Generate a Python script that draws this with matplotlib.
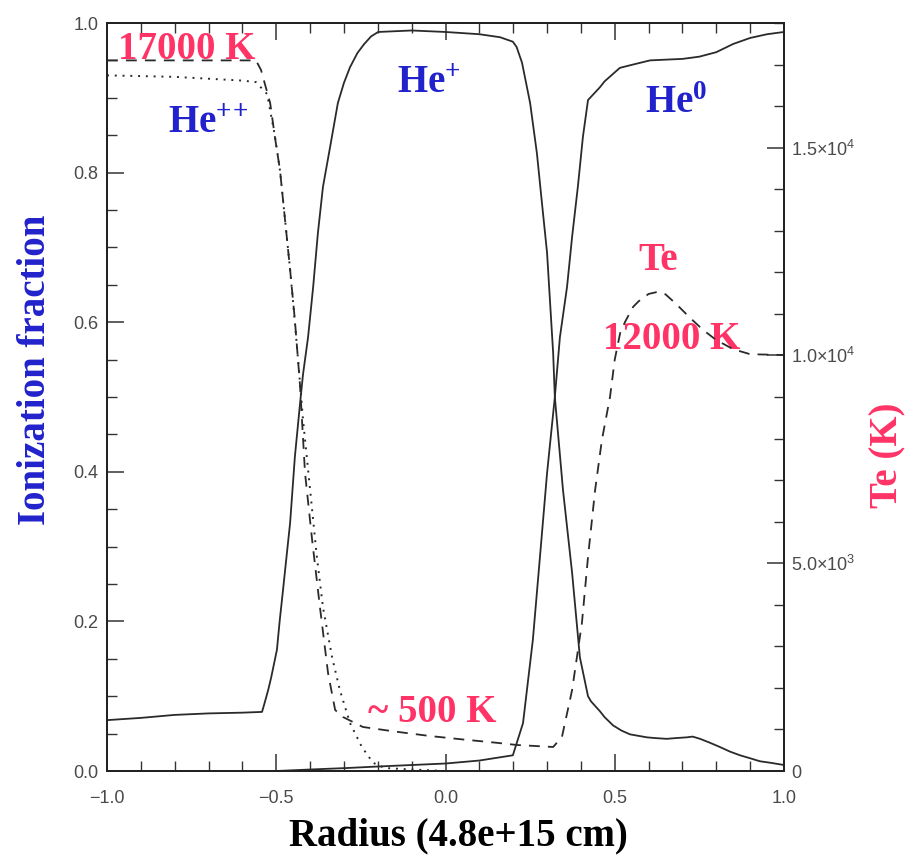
import matplotlib
matplotlib.use("Agg")
import matplotlib.pyplot as plt
from matplotlib.ticker import MultipleLocator, FixedLocator, FixedFormatter

plt.rcParams['mathtext.fontset'] = 'custom'
plt.rcParams['mathtext.rm'] = 'Liberation Serif:bold'
plt.rcParams['mathtext.bf'] = 'Liberation Serif:bold'
plt.rcParams['mathtext.sf'] = 'Liberation Sans'
plt.rcParams['mathtext.default'] = 'rm'

# ---------------- data ----------------
he_plus_r = [-1.0, -0.9, -0.8, -0.7, -0.6, -0.542, -0.535, -0.524, -0.515, -0.498,
             -0.490, -0.480, -0.470, -0.459, -0.445, -0.430, -0.421, -0.406, -0.391,
             -0.377, -0.362, -0.341, -0.318, -0.300, -0.282, -0.260, -0.240, -0.220,
             -0.199, -0.1, 0.0, 0.1, 0.161, 0.199, 0.210, 0.226, 0.250, 0.270,
             0.285, 0.300, 0.309, 0.318, 0.323, 0.347, 0.374, 0.397, 0.421, 0.430,
             0.456, 0.470, 0.495, 0.520, 0.545, 0.570, 0.595, 0.620, 0.654, 0.680,
             0.713, 0.730, 0.752, 0.780, 0.811, 0.840, 0.870, 0.900, 0.929, 0.960, 1.0]
he_plus = [0.068, 0.071, 0.075, 0.077, 0.078, 0.079, 0.090, 0.108, 0.125, 0.162,
           0.200, 0.242, 0.285, 0.332, 0.420, 0.490, 0.530, 0.580, 0.647,
           0.719, 0.781, 0.834, 0.893, 0.920, 0.941, 0.960, 0.972, 0.982,
           0.988, 0.990, 0.988, 0.985, 0.981, 0.975, 0.968, 0.947, 0.893, 0.826,
           0.759, 0.693, 0.626, 0.559, 0.500, 0.376, 0.265, 0.152, 0.100, 0.093,
           0.080, 0.072, 0.061, 0.054, 0.049, 0.047, 0.045, 0.044, 0.043, 0.044,
           0.045, 0.046, 0.043, 0.038, 0.032, 0.026, 0.021, 0.017, 0.013, 0.011, 0.008]

he0_r = [-1.0, -0.5, -0.4, -0.29, -0.2, -0.1, 0.0, 0.1, 0.199, 0.229, 0.258, 0.279,
         0.300, 0.323, 0.338, 0.359, 0.374, 0.391, 0.406, 0.421, 0.456, 0.470, 0.515,
         0.550, 0.604, 0.650, 0.70, 0.75, 0.80, 0.85, 0.90, 0.95, 1.0]
he0 = [0.0, 0.0, 0.002, 0.004, 0.006, 0.008, 0.010, 0.014, 0.021, 0.064, 0.175, 0.286,
       0.398, 0.500, 0.580, 0.647, 0.714, 0.781, 0.848, 0.897, 0.914, 0.922, 0.940,
       0.944, 0.950, 0.951, 0.952, 0.955, 0.961, 0.972, 0.980, 0.985, 0.988]

he2_r = [-1.0, -0.8, -0.6, -0.56, -0.527, -0.504, -0.489, -0.474, -0.459, -0.445,
         -0.430, -0.421, -0.400, -0.380, -0.362, -0.335, -0.312, -0.282, -0.247,
         -0.214, -0.18, -0.1, 0.0, 0.5, 1.0]
he2 = [0.930, 0.928, 0.923, 0.921, 0.905, 0.849, 0.803, 0.737, 0.670, 0.600,
       0.520, 0.470, 0.376, 0.286, 0.219, 0.152, 0.108, 0.064, 0.032,
       0.011, 0.004, 0.002, 0.0, 0.0, 0.0]

te_r = [-1.0, -0.8, -0.6, -0.56, -0.545, -0.518, -0.504, -0.489, -0.474, -0.459,
        -0.445, -0.430, -0.415, -0.394, -0.371, -0.347, -0.326, -0.303, -0.244,
        -0.15, -0.046, 0.05, 0.15, 0.211, 0.318, 0.344, 0.374, 0.403, 0.421, 0.442,
        0.462, 0.486, 0.500, 0.516, 0.530, 0.554, 0.570, 0.600, 0.625, 0.650, 0.680,
        0.720, 0.760, 0.800, 0.850, 0.900, 1.0]
te = [17100, 17100, 17100, 17100, 16870, 16075, 15257, 14463, 13259, 12056,
      10853, 9300, 7171, 5559, 3947, 2358, 1468, 1300, 1059,
      950, 842, 760, 680, 626, 578, 818, 1949, 3561, 5150, 6762,
      7965, 9000, 9900, 10540, 10800, 11166, 11300, 11480, 11527, 11470, 11250,
      10925, 10620, 10370, 10150, 10030, 10010]

x_ticks = [-1.0, -0.5, 0.0, 0.5, 1.0]
x_ticklabels = ['\u22121.0', '\u22120.5', '0.0', '0.5', '1.0']
y_ticks = [0.0, 0.2, 0.4, 0.6, 0.8, 1.0]
y_ticklabels = ['0.0', '0.2', '0.4', '0.6', '0.8', '1.0']
te_ticks = [0, 5000, 10000, 15000]
te_ticklabels = ['0', r'$\mathsf{5.0{\times}10^{3}}$', r'$\mathsf{1.0{\times}10^{4}}$',
                 r'$\mathsf{1.5{\times}10^{4}}$']

# ---------------- figure ----------------
W, H = 908, 856
fig = plt.figure(figsize=(W / 100, H / 100), dpi=100)
L, R, T, B = 107, 784, 23, 771
ax = fig.add_axes([L / W, 1 - B / H, (R - L) / W, (B - T) / H])
ax2 = ax.twinx()

line_col = '#2a2a2a'
ax.plot(he_plus_r, he_plus, color=line_col, lw=1.3, solid_joinstyle='round')
ax.plot(he0_r, he0, color=line_col, lw=1.3, solid_joinstyle='round')
ax.plot(he2_r, he2, color=line_col, lw=1.4, linestyle=(0, (1, 3)))
ax2.plot(te_r, te, color=line_col, lw=1.3, linestyle=(0, (6, 4.5)))

ax.set_xlim(-1, 1)
ax.set_ylim(0, 1)
ax2.set_ylim(0, 18000)

tick_col = '#333333'
lab_col = '#4a4a4a'
tick_font = ['Liberation Sans', 'DejaVu Sans']

ax.xaxis.set_major_locator(FixedLocator(x_ticks))
ax.xaxis.set_major_formatter(FixedFormatter(x_ticklabels))
ax.xaxis.set_minor_locator(MultipleLocator(0.1))
ax.yaxis.set_major_locator(FixedLocator(y_ticks))
ax.yaxis.set_major_formatter(FixedFormatter(y_ticklabels))
ax.yaxis.set_minor_locator(MultipleLocator(0.05))
ax2.yaxis.set_major_locator(FixedLocator(te_ticks))
ax2.yaxis.set_major_formatter(FixedFormatter(te_ticklabels))
ax2.yaxis.set_minor_locator(MultipleLocator(1000))

ax.tick_params(axis='x', which='both', direction='in', top=True, bottom=True,
               labeltop=False, color=tick_col, pad=14)
ax.tick_params(axis='y', which='both', direction='in', left=True, right=False,
               color=tick_col, pad=6)
ax.tick_params(which='major', length=12, width=1.1)
ax.tick_params(which='minor', length=7, width=1.0)
ax2.tick_params(axis='y', which='both', direction='in', color=tick_col, pad=5)
ax2.tick_params(which='major', length=12, width=1.1)
ax2.tick_params(which='minor', length=7, width=1.0)

for lab in ax.get_xticklabels() + ax.get_yticklabels() + ax2.get_yticklabels():
    lab.set_family(tick_font)
    lab.set_fontsize(13)
    lab.set_color(lab_col)

for a in (ax, ax2):
    for s in a.spines.values():
        s.set_linewidth(1.4)
        s.set_color('#222222')

# ---------------- annotations ----------------
pink = '#FF3366'
blue = '#2222CC'
serif = ['Liberation Serif', 'DejaVu Serif']
fs = 28

ax.text(-0.967, 0.952, '17000 K', color=pink, fontsize=fs, fontweight='bold',
        family=serif, ha='left', va='baseline')
ax.text(-0.820, 0.853, r'He$^{+}{}^{+}$', color=blue, fontsize=fs, fontweight='bold',
        family=serif, ha='left', va='baseline')
ax.text(-0.143, 0.906, r'He$^{+}$', color=blue, fontsize=fs, fontweight='bold',
        family=serif, ha='left', va='baseline')
ax.text(0.589, 0.880, r'He$^{0}$', color=blue, fontsize=fs, fontweight='bold',
        family=serif, ha='left', va='baseline')
ax.text(0.569, 0.670, 'Te', color=pink, fontsize=fs, fontweight='bold',
        family=serif, ha='left', va='baseline')
ax.text(0.465, 0.564, '12000 K', color=pink, fontsize=fs, fontweight='bold',
        family=serif, ha='left', va='baseline')
ax.text(-0.229, 0.066, '~ 500 K', color=pink, fontsize=fs, fontweight='bold',
        family=serif, ha='left', va='baseline')

fig.text(36 / W, 1 - 370 / H, 'Ionization fraction', color=blue, fontsize=fs,
         fontweight='bold', family=serif, rotation=90, ha='center', va='center')
fig.text(888 / W, 1 - 455 / H, 'Te (K)', color=pink, fontsize=fs,
         fontweight='bold', family=serif, rotation=90, ha='center', va='center')
fig.text(458 / W, 1 - 836 / H, 'Radius (4.8e+15 cm)', color='black', fontsize=fs,
         fontweight='bold', family=serif, ha='center', va='center')

fig.savefig('out.png', dpi=100, facecolor='white')
